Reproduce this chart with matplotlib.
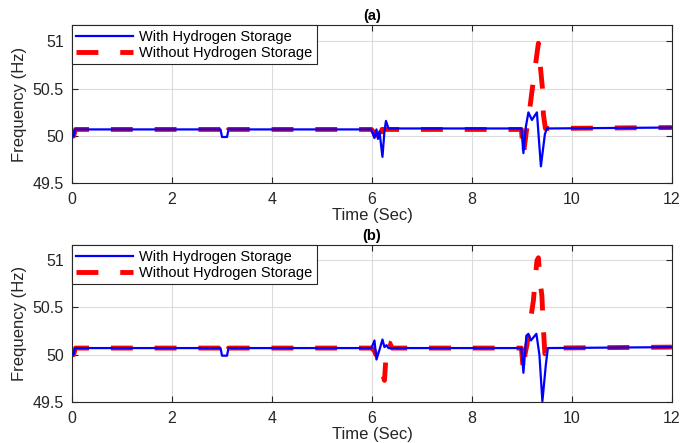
import matplotlib
matplotlib.use("Agg")
from matplotlib import pyplot as plt

plt.rcParams['font.family'] = ['Liberation Sans', 'DejaVu Sans']

# panel (a)
t_with_a = [0, 0.03, 0.06, 2.97, 3.0, 3.1, 3.13, 5.99, 6.02, 6.05, 6.09, 6.12, 6.15,
            6.21, 6.25, 6.28, 6.33, 8.99, 9.03, 9.08, 9.13, 9.2, 9.3, 9.38, 9.46, 9.5, 12]
f_with_a = [50.0, 50.0, 50.07, 50.07, 49.99, 49.99, 50.07, 50.07, 50.02, 49.98, 50.07, 49.97, 50.05,
            49.78, 50.05, 50.16, 50.08, 50.08, 49.82, 50.1, 50.25, 50.17, 50.25, 49.68, 50.02, 50.08, 50.09]
t_without_a = [0, 0.03, 0.07, 2.97, 3.0, 3.1, 3.13, 5.99, 6.05, 6.12, 6.16, 6.2,
               8.99, 9.03, 9.09, 9.16, 9.23, 9.33, 9.37, 9.41, 9.43, 9.47, 12]
f_without_a = [50.0, 50.0, 50.07, 50.07, 49.98, 49.98, 50.07, 50.07, 50.03, 49.89, 49.95, 50.07,
               50.07, 49.8, 50.05, 50.3, 50.59, 50.98, 50.73, 50.51, 50.23, 50.08, 50.09]

# panel (b)
t_with_b = [0, 0.03, 0.06, 2.97, 3.0, 3.1, 3.13, 5.99, 6.05, 6.09, 6.15, 6.21, 6.25, 6.29, 6.33,
            8.99, 9.03, 9.09, 9.13, 9.18, 9.29, 9.35, 9.41, 9.48, 9.52, 12]
f_with_b = [50.0, 50.0, 50.07, 50.07, 49.99, 49.99, 50.07, 50.07, 50.15, 49.95, 50.05, 50.16, 50.08, 50.1, 50.07,
            50.07, 49.81, 50.2, 50.22, 50.15, 50.22, 50.0, 49.51, 49.9, 50.07, 50.08]
t_without_b = [0, 0.03, 0.07, 2.97, 3.0, 3.1, 3.13, 5.99, 6.05, 6.1, 6.17, 6.25, 6.3, 6.36, 6.4,
               8.99, 9.03, 9.06, 9.1, 9.16, 9.23, 9.3, 9.33, 9.37, 9.4, 9.43, 9.46, 9.52, 12]
f_without_b = [50.0, 50.0, 50.07, 50.07, 49.98, 49.98, 50.07, 50.07, 50.04, 49.97, 49.88, 49.73, 50.13, 50.12, 50.07,
               50.07, 49.82, 50.0, 50.1, 50.32, 50.57, 50.99, 51.02, 50.75, 50.62, 50.27, 50.01, 50.07, 50.08]

panels = [
    ("(a)", t_with_a, f_with_a, t_without_a, f_without_a, (49.5, 51.17)),
    ("(b)", t_with_b, f_with_b, t_without_b, f_without_b, (49.5, 51.15)),
]

fig = plt.figure(figsize=(6.8, 4.43), dpi=100)
rects = [[0.106, 0.586, 0.882, 0.357], [0.106, 0.092, 0.882, 0.354]]

for rect, (title, tw, fw, two, fwo, ylim) in zip(rects, panels):
    ax = fig.add_axes(rect)
    ax.plot(two, fwo, color='#ff0000', lw=3.5, ls=(0, (4.5, 4.5)),
            label='Without Hydrogen Storage', zorder=2)
    ax.plot(tw, fw, color='#0000ff', lw=1.6, label='With Hydrogen Storage', zorder=3)
    ax.set_xlim(0, 12)
    ax.set_ylim(*ylim)
    ax.set_xticks([0, 2, 4, 6, 8, 10, 12])
    ax.set_yticks([49.5, 50, 50.5, 51])
    ax.set_yticklabels(['49.5', '50', '50.5', '51'])
    ax.grid(True, color='#dcdcdc', lw=0.8)
    ax.tick_params(direction='in', top=True, right=True, labelsize=11.5,
                   colors='#262626', length=4, width=0.8)
    ax.tick_params(axis='x', pad=6)
    ax.tick_params(axis='y', pad=6)
    for s in ax.spines.values():
        s.set_color('#262626')
        s.set_linewidth(0.8)
    ax.set_xlabel('Time (Sec)', fontsize=12, color='#262626', labelpad=1)
    ax.set_ylabel('Frequency (Hz)', fontsize=12, color='#262626', labelpad=4)
    ax.set_title(title, fontsize=10.5, fontweight='bold', pad=4)
    h, l = ax.get_legend_handles_labels()
    leg = ax.legend(h[::-1], l[::-1], loc='upper left', borderaxespad=0,
                    fontsize=10.5, fancybox=False, edgecolor='#262626',
                    framealpha=1, handlelength=3.9, handletextpad=0.4,
                    borderpad=0.3, labelspacing=0.15)
    leg.get_frame().set_linewidth(0.8)

fig.savefig('out.png', dpi=100)
